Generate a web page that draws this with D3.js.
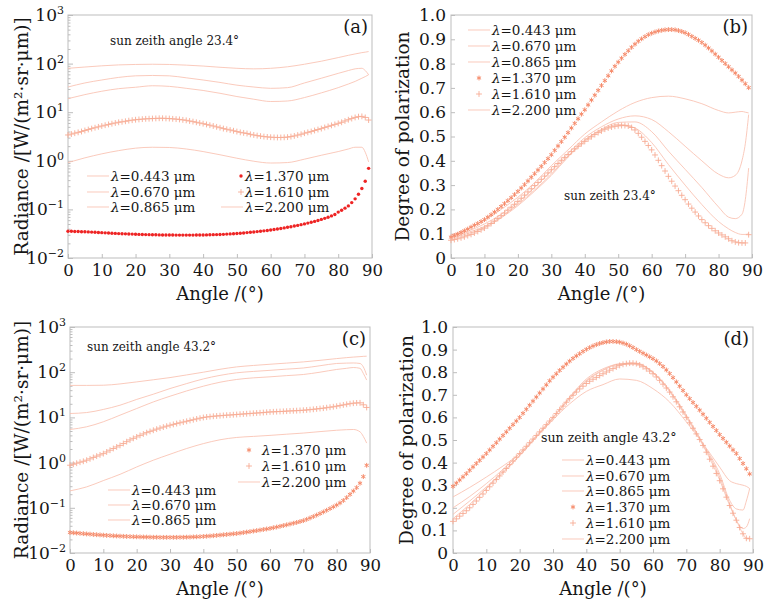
<!DOCTYPE html>
<html>
<head>
<meta charset="utf-8">
<script src="https://cdn.jsdelivr.net/npm/d3@7"></script>
<style>
  body { margin: 0; background: #fff; }
  svg { display: block; font-family: "DejaVu Serif", serif; }
</style>
</head>
<body>
<div class="container"></div>
<script>
/** DATA
 * angles on the horizontal axis, tick values and labels
 * one array per curve
 */

// ANGLES
// lines are sampled more loosely than the marker series (one marker per degree)
const lineAngles = [0, 5, 10, 15, 20, 25, 30, 35, 40, 45, 50, 55, 60, 65, 70, 75, 80, 83, 85, 87, 88, 89];
const markerAngles = [0, 1, 2, 3, 4, 5, 6, 7, 8, 9, 10, 11, 12, 13, 14, 15, 16, 17, 18, 19, 20, 21, 22, 23, 24, 25, 26, 27, 28, 29,
  30, 31, 32, 33, 34, 35, 36, 37, 38, 39, 40, 41, 42, 43, 44, 45, 46, 47, 48, 49, 50, 51, 52, 53, 54, 55, 56, 57, 58, 59,
  60, 61, 62, 63, 64, 65, 66, 67, 68, 69, 70, 71, 72, 73, 74, 75, 76, 77, 78, 79, 80, 81, 82, 83, 84, 85, 86, 87, 88, 89];

// TICKS
const xTickValues = [0, 10, 20, 30, 40, 50, 60, 70, 80, 90];
const logTickValues = [1e-2, 1e-1, 1e0, 1e1, 1e2, 1e3];
const logTickExponents = ["\u22122", "\u22121", "0", "1", "2", "3"];
const logMinorTicks = [2, 3, 4, 5, 6, 7, 8, 9];
const dopTickValues = [0, 0.1, 0.2, 0.3, 0.4, 0.5, 0.6, 0.7, 0.8, 0.9, 1.0];
const dopTickLabels = ["0", "0.1", "0.2", "0.3", "0.4", "0.5", "0.6", "0.7", "0.8", "0.9", "1.0"];

// TEXTS
const wavelengths = ["0.443", "0.670", "0.865", "1.370", "1.610", "2.200"];
const panelLetters = ["(a)", "(b)", "(c)", "(d)"];
const panelNotes = ["sun zeith angle 23.4\u00b0", "sun zeith 23.4\u00b0", "sun zeith angle 43.2\u00b0", "sun zeith angle 43.2\u00b0"];
const xTitle = "Angle /(\u00b0)";
const radianceTitle = "Radiance /[W/(m\u00b2\u00b7sr\u00b7\u03bcm)]";
const dopTitle = "Degree of polarization";

// (a) RADIANCE, SUN ZENITH 23.4
const radA443 = [80, 85, 90, 94, 96, 97, 96, 93, 89, 84, 80, 78, 80, 86, 97, 112, 133, 148, 158, 168, 172, 177];
const radA670 = [33, 40, 46, 52, 56, 57, 56, 51, 46, 41, 36, 33, 31, 32, 40, 50, 63, 72, 78, 80, 72, 59];
const radA865 = [19, 23, 27, 30.5, 32.6, 35, 34, 31, 28, 24.5, 21, 18.5, 16.6, 17, 20, 25, 32, 38, 43, 50, 54, 59];
const radA2200 = [0.92, 1.15, 1.39, 1.62, 1.82, 1.9, 1.88, 1.75, 1.55, 1.33, 1.13, 0.98, 0.9, 0.92, 1.08, 1.3, 1.55, 1.75, 1.9, 1.9, 1.5, 0.95];
const radA1370 = [0.0355, 0.0354, 0.0352, 0.035, 0.0348, 0.0346, 0.0344, 0.0341, 0.0338, 0.0335,
  0.0332, 0.0329, 0.0326, 0.0323, 0.0321, 0.0318, 0.0316, 0.0314, 0.0312, 0.031,
  0.0308, 0.0306, 0.0305, 0.0303, 0.0302, 0.0301, 0.03, 0.0299, 0.0298, 0.0298,
  0.0297, 0.0297, 0.0296, 0.0296, 0.0296, 0.0296, 0.0296, 0.0296, 0.0297, 0.0297,
  0.0298, 0.0299, 0.03, 0.0302, 0.0303, 0.0305, 0.0307, 0.031, 0.0313, 0.0316,
  0.032, 0.0324, 0.0328, 0.0333, 0.0338, 0.0343, 0.0349, 0.0355, 0.0362, 0.0369,
  0.0377, 0.0386, 0.0395, 0.0405, 0.0416, 0.0428, 0.044, 0.0454, 0.0469, 0.0485,
  0.0503, 0.0522, 0.0543, 0.0567, 0.0593, 0.0622, 0.0655, 0.069, 0.0735, 0.0785,
  0.088, 0.096, 0.106, 0.118, 0.138, 0.165, 0.205, 0.27, 0.38, 0.70];
const radA1610 = [3.4, 3.55, 3.7, 3.85, 4.0, 4.2, 4.4, 4.6, 4.8, 5.0,
  5.2, 5.4, 5.6, 5.8, 6.0, 6.2, 6.35, 6.5, 6.7, 6.85,
  7.0, 7.1, 7.2, 7.3, 7.35, 7.4, 7.45, 7.5, 7.5, 7.45,
  7.4, 7.3, 7.2, 7.1, 6.95, 6.8, 6.6, 6.4, 6.2, 6.0,
  5.8, 5.6, 5.4, 5.2, 5.0, 4.8, 4.6, 4.45, 4.3, 4.15,
  4.0, 3.85, 3.75, 3.65, 3.5, 3.4, 3.3, 3.22, 3.15, 3.1,
  3.06, 3.03, 3.02, 3.02, 3.04, 3.07, 3.15, 3.25, 3.38, 3.52,
  3.7, 3.85, 4.0, 4.2, 4.4, 4.6, 4.85, 5.1, 5.35, 5.6,
  5.9, 6.2, 6.6, 7.0, 7.4, 7.8, 8.1, 8.2, 7.8, 6.9];

// (b) DEGREE OF POLARIZATION, SUN ZENITH 23.4
const dopB443 = [0.095, 0.12, 0.155, 0.2, 0.25, 0.31, 0.38, 0.445, 0.51, 0.56, 0.605, 0.64, 0.66, 0.666, 0.655, 0.635, 0.607, 0.597, 0.6, 0.603, 0.6, 0.597];
const dopB670 = [0.09, 0.11, 0.14, 0.18, 0.23, 0.29, 0.36, 0.43, 0.495, 0.54, 0.572, 0.585, 0.57, 0.52, 0.46, 0.4, 0.345, 0.33, 0.34, 0.4, 0.47, 0.59];
const dopB865 = [0.085, 0.105, 0.13, 0.17, 0.22, 0.28, 0.345, 0.42, 0.485, 0.53, 0.558, 0.56, 0.52, 0.44, 0.365, 0.29, 0.21, 0.168, 0.162, 0.18, 0.24, 0.37];
const dopB2200 = [0.08, 0.1, 0.125, 0.165, 0.215, 0.275, 0.34, 0.415, 0.48, 0.525, 0.55, 0.535, 0.475, 0.385, 0.3, 0.22, 0.15, 0.12, 0.105, 0.097, 0.097, 0.1];
const dopB1370 = [0.086, 0.092, 0.098, 0.105, 0.112, 0.119, 0.127, 0.135, 0.142, 0.15,
  0.158, 0.168, 0.178, 0.189, 0.2, 0.212, 0.224, 0.236, 0.248, 0.261,
  0.274, 0.288, 0.302, 0.317, 0.332, 0.347, 0.362, 0.377, 0.393, 0.409,
  0.425, 0.443, 0.461, 0.479, 0.497, 0.516, 0.535, 0.554, 0.573, 0.592,
  0.61, 0.63, 0.65, 0.67, 0.69, 0.71, 0.73, 0.75, 0.77, 0.789,
  0.806, 0.822, 0.838, 0.853, 0.867, 0.88, 0.892, 0.902, 0.911, 0.919,
  0.925, 0.93, 0.934, 0.937, 0.939, 0.94, 0.94, 0.939, 0.936, 0.932,
  0.927, 0.92, 0.912, 0.904, 0.896, 0.887, 0.876, 0.864, 0.852, 0.839,
  0.826, 0.813, 0.8, 0.787, 0.774, 0.761, 0.747, 0.732, 0.717, 0.701];
const dopB1610 = [0.073, 0.076, 0.079, 0.083, 0.087, 0.092, 0.097, 0.103, 0.109, 0.116,
  0.123, 0.132, 0.142, 0.152, 0.163, 0.174, 0.185, 0.197, 0.209, 0.221,
  0.233, 0.246, 0.259, 0.272, 0.285, 0.298, 0.311, 0.324, 0.337, 0.35,
  0.363, 0.376, 0.389, 0.402, 0.414, 0.426, 0.438, 0.449, 0.46, 0.47,
  0.48, 0.49, 0.499, 0.508, 0.516, 0.523, 0.53, 0.535, 0.539, 0.542,
  0.544, 0.545, 0.545, 0.543, 0.537, 0.527, 0.513, 0.497, 0.48, 0.463,
  0.445, 0.424, 0.402, 0.38, 0.358, 0.336, 0.316, 0.296, 0.277, 0.258,
  0.24, 0.222, 0.205, 0.189, 0.173, 0.158, 0.145, 0.133, 0.122, 0.112,
  0.103, 0.095, 0.087, 0.079, 0.071, 0.066, 0.063, 0.062, 0.062, 0.096];

// (c) RADIANCE, SUN ZENITH 43.2
const radC443 = [51, 51, 51.5, 55, 61, 68, 76, 87, 100, 116, 131, 141, 150, 159, 169, 183, 200, 210, 216, 221, 224, 226];
const radC670 = [12.2, 12.8, 15, 18.6, 25, 32.6, 43.5, 56, 71, 85, 97, 104, 110, 117, 124, 139, 156, 159, 160, 156, 131, 86];
const radC865 = [5.4, 6.2, 8, 11.2, 15.7, 22, 29.4, 38.5, 49, 60, 69, 75, 79, 84, 89, 100, 115, 122, 127, 122, 94, 67];
const radC2200 = [0.237, 0.29, 0.4, 0.55, 0.8, 1.13, 1.53, 2.05, 2.63, 3.2, 3.6, 3.8, 4.0, 4.25, 4.5, 4.85, 5.2, 5.35, 5.4, 4.8, 3.8, 2.7];
const radC1370 = [0.0284, 0.028, 0.0276, 0.0272, 0.0268, 0.0264, 0.0261, 0.0257, 0.0254, 0.0251,
  0.0248, 0.0245, 0.0243, 0.024, 0.0238, 0.0236, 0.0234, 0.0232, 0.0231, 0.0229,
  0.0228, 0.0227, 0.0226, 0.0225, 0.0224, 0.0223, 0.0223, 0.0222, 0.0222, 0.0222,
  0.0222, 0.0222, 0.0222, 0.0223, 0.0223, 0.0224, 0.0225, 0.0227, 0.0228, 0.023,
  0.0232, 0.0235, 0.0238, 0.0241, 0.0245, 0.0249, 0.0253, 0.0257, 0.0261, 0.0266,
  0.027, 0.0276, 0.0283, 0.029, 0.0297, 0.0305, 0.0313, 0.0322, 0.0331, 0.034,
  0.035, 0.0362, 0.0375, 0.0389, 0.0404, 0.042, 0.0437, 0.0455, 0.0474, 0.0496,
  0.052, 0.0555, 0.0595, 0.064, 0.069, 0.0745, 0.081, 0.088, 0.096, 0.105,
  0.115, 0.128, 0.145, 0.168, 0.198, 0.235, 0.28, 0.35, 0.49, 0.87];
const radC1610 = [0.875, 0.92, 0.97, 1.02, 1.07, 1.13, 1.21, 1.3, 1.39, 1.48,
  1.58, 1.72, 1.88, 2.05, 2.22, 2.4, 2.64, 2.9, 3.17, 3.44,
  3.7, 4.0, 4.3, 4.6, 4.9, 5.2, 5.5, 5.8, 6.1, 6.4,
  6.7, 7.0, 7.3, 7.6, 7.9, 8.2, 8.55, 8.9, 9.25, 9.6,
  9.95, 10.2, 10.4, 10.6, 10.75, 10.9, 11.05, 11.2, 11.3, 11.45,
  11.6, 11.75, 11.9, 12.05, 12.2, 12.35, 12.5, 12.65, 12.8, 13.0,
  13.2, 13.3, 13.4, 13.5, 13.6, 13.75, 13.9, 14.0, 14.1, 14.25,
  14.4, 14.6, 14.85, 15.1, 15.4, 15.7, 16.0, 16.4, 16.8, 17.2,
  17.7, 18.3, 18.9, 19.5, 20.1, 20.6, 20.9, 21.0, 19.0, 16.6];

// (d) DEGREE OF POLARIZATION, SUN ZENITH 43.2
const dopD443 = [0.248, 0.29, 0.336, 0.385, 0.44, 0.513, 0.59, 0.66, 0.715, 0.745, 0.77, 0.764, 0.727, 0.668, 0.58, 0.484, 0.38, 0.32, 0.307, 0.3, 0.295, 0.285];
const dopD670 = [0.2, 0.25, 0.307, 0.37, 0.44, 0.52, 0.6, 0.69, 0.77, 0.815, 0.835, 0.835, 0.8, 0.72, 0.61, 0.484, 0.35, 0.233, 0.195, 0.19, 0.23, 0.285];
const dopD865 = [0.171, 0.23, 0.292, 0.36, 0.432, 0.515, 0.6, 0.685, 0.764, 0.81, 0.838, 0.84, 0.8, 0.717, 0.605, 0.48, 0.336, 0.218, 0.145, 0.108, 0.115, 0.152];
const dopD2200 = [0.152, 0.215, 0.285, 0.355, 0.43, 0.513, 0.598, 0.683, 0.76, 0.808, 0.835, 0.838, 0.796, 0.714, 0.6, 0.476, 0.323, 0.21, 0.145, 0.085, 0.065, 0.065];
const dopD1370 = [0.295, 0.309, 0.323, 0.337, 0.351, 0.366, 0.381, 0.396, 0.41, 0.425,
  0.44, 0.456, 0.472, 0.488, 0.504, 0.52, 0.536, 0.552, 0.568, 0.584,
  0.6, 0.618, 0.636, 0.654, 0.672, 0.69, 0.708, 0.726, 0.744, 0.762,
  0.778, 0.793, 0.808, 0.822, 0.836, 0.849, 0.861, 0.872, 0.882, 0.892,
  0.901, 0.909, 0.916, 0.922, 0.927, 0.931, 0.934, 0.936, 0.936, 0.935,
  0.933, 0.929, 0.924, 0.917, 0.909, 0.9, 0.892, 0.884, 0.876, 0.868,
  0.86, 0.85, 0.838, 0.825, 0.81, 0.794, 0.776, 0.757, 0.738, 0.719,
  0.7, 0.683, 0.666, 0.649, 0.632, 0.614, 0.596, 0.578, 0.56, 0.542,
  0.524, 0.507, 0.49, 0.473, 0.456, 0.44, 0.418, 0.396, 0.373, 0.35];
const dopD1610 = [0.14, 0.151, 0.163, 0.175, 0.187, 0.2, 0.215, 0.23, 0.246, 0.261,
  0.277, 0.293, 0.309, 0.325, 0.341, 0.358, 0.374, 0.391, 0.407, 0.424,
  0.44, 0.456, 0.472, 0.488, 0.504, 0.52, 0.536, 0.552, 0.568, 0.584,
  0.6, 0.617, 0.634, 0.65, 0.667, 0.683, 0.698, 0.712, 0.726, 0.738,
  0.75, 0.76, 0.769, 0.777, 0.785, 0.793, 0.801, 0.809, 0.816, 0.823,
  0.83, 0.835, 0.838, 0.84, 0.84, 0.838, 0.832, 0.824, 0.815, 0.805,
  0.793, 0.779, 0.764, 0.747, 0.73, 0.712, 0.691, 0.669, 0.647, 0.624,
  0.6, 0.576, 0.552, 0.527, 0.502, 0.476, 0.446, 0.415, 0.384, 0.352,
  0.32, 0.284, 0.247, 0.21, 0.176, 0.145, 0.113, 0.085, 0.065, 0.063];

/** SETUP
 * one svg canvas for the whole figure, four panels placed inside it
 */

// COLOURS
const lineColor = "#f9c0b0";
const starColor = "#f68c6c";
const plusColor = "#f7ab94";
const dotColor = "#ee2424";
const frameColor = "#bdbdbd";
const textColor = "#161616";

// SERIES STYLES, in the order of the wavelengths array
const kindsA = ["line", "line", "line", "dot", "plus", "line"];
const kindsBCD = ["line", "line", "line", "star", "plus", "line"];

// PANELS
// frame of each plot in page pixels, legend rows and text positions
const panels = [
  {
    letter: panelLetters[0], note: panelNotes[0], noteX: 110, noteY: 45, noteSize: 12,
    log: true, x0: 68, x1: 372, y0: 15, y1: 258, yTitle: radianceTitle, yTitleX: 22,
    kinds: kindsA,
    values: [radA443, radA670, radA865, radA1370, radA1610, radA2200],
    legend: [
      { idx: 0, x: 87, y: 176 }, { idx: 1, x: 87, y: 192 }, { idx: 2, x: 87, y: 207 },
      { idx: 3, x: 221, y: 176 }, { idx: 4, x: 221, y: 192 }, { idx: 5, x: 221, y: 207 }
    ],
    markerDx: 20
  },
  {
    letter: panelLetters[1], note: panelNotes[1], noteX: 564, noteY: 200, noteSize: 12,
    log: false, x0: 451, x1: 752, y0: 15, y1: 258, yTitle: dopTitle, yTitleX: 403,
    kinds: kindsBCD,
    values: [dopB443, dopB670, dopB865, dopB1370, dopB1610, dopB2200],
    legend: [30, 46, 62, 78, 94, 110].map((y, i) => ({ idx: i, x: 468, y: y })),
    markerDx: 11
  },
  {
    letter: panelLetters[2], note: panelNotes[2], noteX: 87, noteY: 351, noteSize: 12,
    log: true, x0: 70, x1: 370, y0: 327, y1: 553, yTitle: radianceTitle, yTitleX: 22,
    kinds: kindsBCD,
    values: [radC443, radC670, radC865, radC1370, radC1610, radC2200],
    legend: [
      { idx: 0, x: 108, y: 490 }, { idx: 1, x: 108, y: 505 }, { idx: 2, x: 108, y: 520 },
      { idx: 3, x: 238, y: 450 }, { idx: 4, x: 238, y: 466 }, { idx: 5, x: 238, y: 482 }
    ],
    markerDx: 11
  },
  {
    letter: panelLetters[3], note: panelNotes[3], noteX: 541, noteY: 442, noteSize: 12.6,
    log: false, x0: 453, x1: 753, y0: 327, y1: 553, yTitle: dopTitle, yTitleX: 407,
    kinds: kindsBCD,
    values: [dopD443, dopD670, dopD865, dopD1370, dopD1610, dopD2200],
    legend: [460, 476, 491, 507, 523, 539].map((y, i) => ({ idx: i, x: 562, y: y })),
    markerDx: 11
  }
];

// SELECT
const container = d3.select(".container");

// FRAME
const svg = container
  .append("svg")
  .attr("width", 768)
  .attr("height", 605)
  .attr("viewBox", "0 0 768 605");

const starSymbol = d3.symbol().type(d3.symbolAsterisk).size(16);
const plusSymbol = d3.symbol().type(d3.symbolPlus).size(13);

// draw one marker of the given kind at (cx, cy)
function drawMarker(sel, kind, cx, cy) {
  if (kind === "dot") {
    sel.append("circle").attr("cx", cx).attr("cy", cy).attr("r", 1.7).attr("fill", dotColor);
  } else if (kind === "star") {
    sel.append("path").attr("d", starSymbol()).attr("transform", `translate(${cx},${cy})`)
      .attr("fill", "none").attr("stroke", starColor).attr("stroke-width", 1);
  } else {
    sel.append("path").attr("d", plusSymbol()).attr("transform", `translate(${cx},${cy})`)
      .attr("fill", "none").attr("stroke", plusColor).attr("stroke-width", 0.9);
  }
}

function drawPanel(p) {
  const g = svg.append("g");

  // SCALES
  const xScale = d3.scaleLinear().domain([0, 90]).range([p.x0, p.x1]);
  const yScale = p.log
    ? d3.scaleLog().domain([1e-2, 1e3]).range([p.y1, p.y0])
    : d3.scaleLinear().domain([0, 1]).range([p.y1, p.y0]);

  // AXES
  // ticks point inwards, the frame is drawn as one rectangle
  const xAxis = d3.axisBottom(xScale)
    .tickValues(xTickValues)
    .tickSizeInner(-4)
    .tickSizeOuter(0)
    .tickPadding(6);
  const xAxisGroup = g.append("g")
    .attr("transform", `translate(0, ${p.y1})`)
    .call(xAxis);
  xAxisGroup.selectAll("text").attr("font-size", 16.5).attr("fill", textColor)
    .attr("font-family", "DejaVu Serif");

  let yAxisGroup;
  if (p.log) {
    const minor = [];
    logTickValues.slice(0, -1).forEach(d => logMinorTicks.forEach(m => minor.push(d * m)));
    g.append("g")
      .attr("transform", `translate(${p.x0}, 0)`)
      .call(d3.axisLeft(yScale).tickValues(minor).tickSizeInner(-2.5).tickSizeOuter(0).tickFormat(""))
      .call(a => a.select(".domain").remove())
      .selectAll("line").attr("stroke", frameColor);
    yAxisGroup = g.append("g")
      .attr("transform", `translate(${p.x0}, 0)`)
      .call(d3.axisLeft(yScale).tickValues(logTickValues).tickSizeInner(-5).tickSizeOuter(0).tickFormat(""));
    // labels as 10 with a raised exponent
    const labels = g.append("g")
      .selectAll("text")
      .data(logTickValues)
      .enter()
      .append("text")
      .attr("x", p.x0 - 4)
      .attr("y", d => yScale(d) + 6)
      .attr("text-anchor", "end")
      .attr("font-size", 17)
      .attr("fill", textColor);
    labels.append("tspan").text("10");
    labels.append("tspan")
      .attr("dy", -7)
      .attr("font-size", 11)
      .text((d, i) => logTickExponents[i]);
  } else {
    yAxisGroup = g.append("g")
      .attr("transform", `translate(${p.x0}, 0)`)
      .call(d3.axisLeft(yScale)
        .tickValues(dopTickValues)
        .tickSizeInner(-4)
        .tickSizeOuter(0)
        .tickPadding(5)
        .tickFormat((d, i) => dopTickLabels[i]));
    yAxisGroup.selectAll("text").attr("font-size", 17).attr("fill", textColor)
      .attr("font-family", "DejaVu Serif");
  }

  [xAxisGroup, yAxisGroup].forEach(a => {
    a.select(".domain").remove();
    a.selectAll("line").attr("stroke", frameColor);
  });

  // box round the plot
  g.append("rect")
    .attr("x", p.x0)
    .attr("y", p.y0)
    .attr("width", p.x1 - p.x0)
    .attr("height", p.y1 - p.y0)
    .attr("fill", "none")
    .attr("stroke", frameColor)
    .attr("stroke-width", 1);

  // CURVES
  const line = d3.line()
    .x((d, i) => xScale(lineAngles[i]))
    .y(d => yScale(d))
    .curve(d3.curveMonotoneX);

  p.kinds.forEach((kind, s) => {
    if (kind !== "line") return;
    g.append("path")
      .datum(p.values[s])
      .attr("d", line)
      .attr("fill", "none")
      .attr("stroke", lineColor)
      .attr("stroke-width", 0.85);
  });

  p.kinds.forEach((kind, s) => {
    if (kind === "line") return;
    const markers = g.append("g");
    p.values[s].forEach((v, i) => drawMarker(markers, kind, xScale(markerAngles[i]), yScale(v)));
  });

  // LEGEND
  const legend = g.append("g");
  p.legend.forEach(item => {
    const kind = p.kinds[item.idx];
    if (kind === "line") {
      legend.append("line")
        .attr("x1", item.x).attr("x2", item.x + 22)
        .attr("y1", item.y).attr("y2", item.y)
        .attr("stroke", lineColor).attr("stroke-width", 0.85);
    } else {
      drawMarker(legend, kind, item.x + p.markerDx, item.y);
    }
    const t = legend.append("text")
      .attr("x", item.x + 24)
      .attr("y", item.y + 4.5)
      .attr("font-size", 13.5)
      .attr("fill", textColor);
    t.append("tspan").attr("font-style", "italic").text("\u03bb");
    t.append("tspan").text(`=${wavelengths[item.idx]} \u03bcm`);
  });

  // TEXTS
  g.append("text")
    .attr("x", p.noteX)
    .attr("y", p.noteY)
    .attr("font-size", p.noteSize)
    .attr("fill", textColor)
    .text(p.note);

  g.append("text")
    .attr("x", p.x1 - 4)
    .attr("y", p.y0 + 18)
    .attr("text-anchor", "end")
    .attr("font-size", 18)
    .attr("fill", textColor)
    .text(p.letter);

  g.append("text")
    .attr("x", (p.x0 + p.x1) / 2)
    .attr("y", p.y1 + 42)
    .attr("text-anchor", "middle")
    .attr("font-size", 18)
    .attr("fill", textColor)
    .text(xTitle);

  g.append("text")
    .attr("transform", `translate(${p.yTitleX + 6}, ${(p.y0 + p.y1) / 2}) rotate(-90)`)
    .attr("text-anchor", "middle")
    .attr("font-size", 18.5)
    .attr("fill", textColor)
    .text(p.yTitle);
}

panels.forEach(drawPanel);
</script>
</body>
</html>
